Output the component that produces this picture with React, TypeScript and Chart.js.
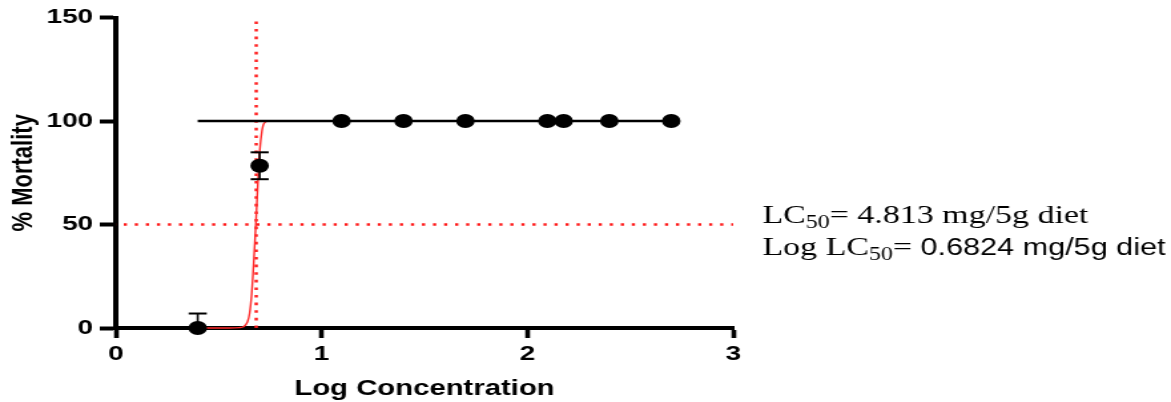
import React, { useEffect, useRef } from "react";
import { Chart, registerables } from "chart.js";

Chart.register(...registerables);

// ---- data ----
const LOG_CONC = [0.398, 0.699, 1.097, 1.398, 1.699, 2.097, 2.176, 2.398, 2.699];
const MORTALITY = [0, 78.4, 100, 100, 100, 100, 100, 100, 100];
const ERR_UP = [7, 6.5, 0, 0, 0, 0, 0, 0, 0];
const ERR_DOWN = [0, 6.5, 0, 0, 0, 0, 0, 0, 0];

const FIT_X = [0.398, 2.699];
const FIT_Y = [100, 100];

const CURVE_X = [0.398, 0.55, 0.6, 0.62, 0.64, 0.65, 0.66, 0.67, 0.68, 0.69, 0.7, 0.71, 0.72, 0.74, 0.8, 1.2, 1.8, 2.699];
const CURVE_Y = [0, 0, 0.2, 0.6, 3, 7, 16, 31, 49, 69, 86, 95, 98.8, 100, 100, 100, 100, 100];

const LC50_LOG = 0.6824;
const HALF_MORTALITY = 50;

const X_TICKS = [0, 1, 2, 3];
const Y_TICKS = [0, 50, 100, 150];
const X_TITLE = "Log Concentration";
const Y_TITLE = "% Mortality";

// note text: segments [text, kind]
const NOTE_LINE_1: [string, string][] = [["LC", "serif"], ["50", "sub"], ["= 4.813 mg/5g diet", "serif"]];
const NOTE_LINE_2: [string, string][] = [["Log LC", "serif"], ["50", "sub"], ["= ", "serif"], ["0.6824 mg/5g diet", "sans"]];

// ---- layout (canvas units; the whole figure is stretched horizontally) ----
const OUT_W = 1171;
const OUT_H = 402;
const CANVAS_W = 880;
const STRETCH = OUT_W / CANVAS_W;

const SANS = "'Liberation Sans', Arial, Helvetica, sans-serif";
const SERIF = "'Liberation Serif', 'Times New Roman', serif";

const errorBarPlugin = {
  id: "errorBars",
  afterDatasetsDraw(chart: any) {
    const { ctx, scales } = chart;
    const x = scales.x;
    const y = scales.y;
    ctx.save();
    ctx.strokeStyle = "#000";
    const half = 6.8;
    LOG_CONC.forEach((v, i) => {
      if (!ERR_UP[i] && !ERR_DOWN[i]) return;
      const px = x.getPixelForValue(v);
      const pTop = y.getPixelForValue(MORTALITY[i] + ERR_UP[i]);
      const pBot = y.getPixelForValue(MORTALITY[i] - ERR_DOWN[i]);
      ctx.lineWidth = 1.6;
      ctx.beginPath();
      ctx.moveTo(px, pTop);
      ctx.lineTo(px, pBot);
      ctx.stroke();
      ctx.lineWidth = 2;
      if (ERR_UP[i]) {
        ctx.beginPath();
        ctx.moveTo(px - half, pTop);
        ctx.lineTo(px + half, pTop);
        ctx.stroke();
      }
      if (ERR_DOWN[i]) {
        ctx.beginPath();
        ctx.moveTo(px - half, pBot);
        ctx.lineTo(px + half, pBot);
        ctx.stroke();
      }
    });
    ctx.restore();
  },
};

const notePlugin = {
  id: "note",
  afterDraw(chart: any) {
    const { ctx, chartArea } = chart;
    const startX = chartArea.right + 22;
    const baselines = [223, 255];
    const fonts: Record<string, string> = {
      serif: `25.5px ${SERIF}`,
      sub: `18px ${SERIF}`,
      sans: `23px ${SANS}`,
    };
    ctx.save();
    ctx.fillStyle = "#000";
    ctx.textBaseline = "alphabetic";
    ctx.textAlign = "left";
    [NOTE_LINE_1, NOTE_LINE_2].forEach((line, li) => {
      let cx = startX;
      line.forEach(([t, kind]) => {
        ctx.font = fonts[kind];
        const dy = kind === "sub" ? 5 : 0;
        ctx.fillText(t, cx, baselines[li] + dy);
        cx += ctx.measureText(t).width;
      });
    });
    ctx.restore();
  },
};

export default function App() {
  const canvasRef = useRef<HTMLCanvasElement | null>(null);

  useEffect(() => {
    document.body.style.margin = "0";
    const canvas = canvasRef.current;
    if (!canvas) return;

    const tickFont = { family: SANS, size: 21, weight: "bold" as const };
    const titleFont = { family: SANS, size: 22, weight: "bold" as const };

    const chart = new Chart(canvas, {
      type: "scatter",
      data: {
        datasets: [
          {
            label: "Mortality",
            data: LOG_CONC.map((v, i) => ({ x: v, y: MORTALITY[i] })),
            pointStyle: "circle",
            pointRadius: 7,
            pointBackgroundColor: "#000",
            pointBorderColor: "#000",
            pointBorderWidth: 0,
            showLine: false,
            order: 0,
            clip: false,
          } as any,
          {
            label: "Fit",
            data: FIT_X.map((v, i) => ({ x: v, y: FIT_Y[i] })),
            showLine: true,
            borderColor: "#000",
            borderWidth: 2.6,
            pointRadius: 0,
            order: 1,
            clip: false,
          },
          {
            label: "Dose response",
            data: CURVE_X.map((v, i) => ({ x: v, y: CURVE_Y[i] })),
            showLine: true,
            borderColor: "#ff2a2a",
            borderWidth: 1.4,
            pointRadius: 0,
            cubicInterpolationMode: "monotone",
            order: 2,
            clip: false,
          },
          {
            label: "LC50 vertical",
            data: [
              { x: LC50_LOG, y: Y_TICKS[0] },
              { x: LC50_LOG, y: Y_TICKS[Y_TICKS.length - 1] },
            ],
            showLine: true,
            borderColor: "#ff1a1a",
            borderWidth: 2.4,
            borderDash: [2.6, 5],
            pointRadius: 0,
            order: 3,
            clip: false,
          },
          {
            label: "50% line",
            data: [
              { x: X_TICKS[0], y: HALF_MORTALITY },
              { x: X_TICKS[X_TICKS.length - 1], y: HALF_MORTALITY },
            ],
            showLine: true,
            borderColor: "#ff1a1a",
            borderWidth: 2.6,
            borderDash: [2.4, 5.9],
            borderDashOffset: -6,
            pointRadius: 0,
            order: 3,
            clip: false,
          },
        ],
      },
      options: {
        responsive: false,
        animation: false,
        devicePixelRatio: 1,
        layout: { padding: { top: 17, right: CANVAS_W - 551, bottom: 0, left: 0 } },
        plugins: {
          legend: { display: false },
          tooltip: { enabled: false },
        },
        scales: {
          x: {
            type: "linear",
            min: X_TICKS[0],
            max: X_TICKS[X_TICKS.length - 1],
            afterBuildTicks: (s: any) => {
              s.ticks = X_TICKS.map((v) => ({ value: v }));
            },
            afterFit: (s: any) => {
              s.height = OUT_H - 328;
            },
            ticks: { color: "#000", font: tickFont, padding: 4, maxRotation: 0 },
            grid: {
              display: true,
              drawOnChartArea: false,
              drawTicks: true,
              tickLength: 10,
              tickWidth: 3.6,
              tickColor: "#000",
            },
            border: { display: true, width: 4, color: "#000" },
            title: {
              display: true,
              text: X_TITLE,
              color: "#000",
              font: titleFont,
              padding: { top: 0, bottom: 0 },
            },
          },
          y: {
            type: "linear",
            min: Y_TICKS[0],
            max: Y_TICKS[Y_TICKS.length - 1],
            afterBuildTicks: (s: any) => {
              s.ticks = Y_TICKS.map((v) => ({ value: v }));
            },
            afterFit: (s: any) => {
              s.width = 87;
            },
            ticks: { color: "#000", font: tickFont, padding: 5 },
            grid: {
              display: true,
              drawOnChartArea: false,
              drawTicks: true,
              tickLength: 12,
              tickWidth: 4,
              tickColor: "#000",
            },
            border: { display: true, width: 4, color: "#000" },
            title: {
              display: true,
              text: Y_TITLE,
              color: "#000",
              font: titleFont,
              padding: { top: 5, bottom: 0 },
            },
          },
        },
      },
      plugins: [errorBarPlugin, notePlugin],
    } as any);

    return () => {
      chart.destroy();
    };
  }, []);

  return (
    <div style={{ width: OUT_W, height: OUT_H, overflow: "hidden", position: "relative" }}>
      <div
        style={{
          width: CANVAS_W,
          height: OUT_H,
          transform: `scaleX(${STRETCH})`,
          transformOrigin: "0 0",
        }}
      >
        <canvas ref={canvasRef} width={CANVAS_W} height={OUT_H} style={{ display: "block" }} />
      </div>
    </div>
  );
}
